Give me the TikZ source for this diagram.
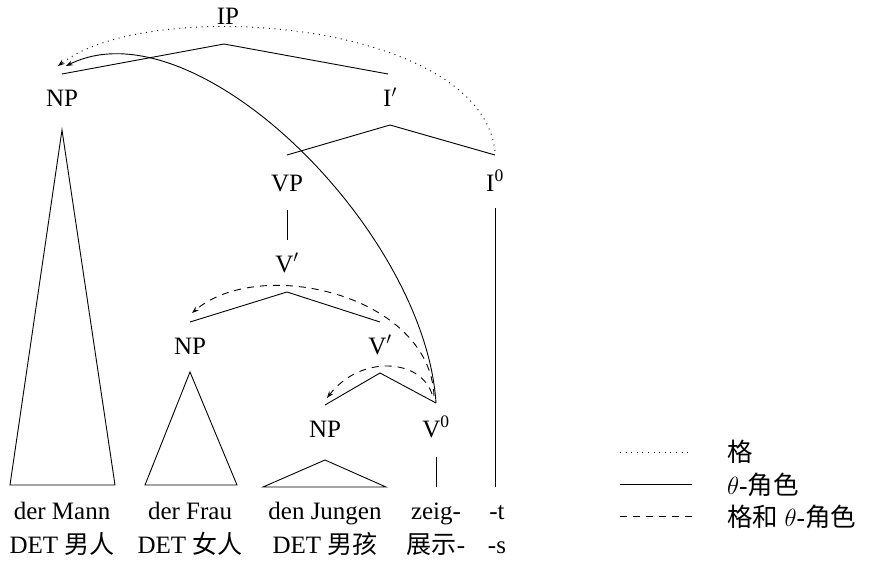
\documentclass[tikz,border=0pt]{standalone}
\usepackage{fontspec}
\setmainfont{Liberation Serif}
\newfontfamily\cjk{Noto Sans CJK SC}
\usetikzlibrary{arrows.meta}
\tikzset{
  lbl/.style={font=\fontsize{25}{29}\selectfont, inner sep=0pt, anchor=base},
  leg/.style={font=\fontsize{25.5}{29}\selectfont, inner sep=0pt, anchor=west},
  branch/.style={line width=0.9pt},
  dotrel/.style={line width=0.9pt, dash pattern=on 1pt off 4.6pt},
  dashrel/.style={line width=0.9pt, dash pattern=on 7pt off 6pt},
  solrel/.style={line width=0.9pt},
  tip/.style={-{Stealth[length=7pt,width=5pt,inset=2.5pt]}}
}
\begin{document}
\begin{tikzpicture}[x=1pt,y=-1pt]
\useasboundingbox (0,0) rectangle (873,567);
% labels
\node[lbl] (ip) at (228,25) {IP};
\node[lbl] (np1) at (62,107) {NP};
\node[lbl] (ibar) at (390,107) {I$'$};
\node[lbl] (vp) at (287,192) {VP};
\node[lbl] (i0) at (495,191) {I\textsuperscript{0}};
\node[lbl] (vbar1) at (287,272) {V$'$};
\node[lbl] (np2) at (190,354) {NP};
\node[lbl] (vbar2) at (380,354) {V$'$};
\node[lbl] (np3) at (325,437) {NP};
\node[lbl] (v0) at (436,437) {V\textsuperscript{0}};
% words
\node[lbl] (w1) at (62,519) {der Mann};
\node[lbl] (w2) at (190,519) {der Frau};
\node[lbl] (w3) at (325,519) {den Jungen};
\node[lbl] (w4) at (436,519) {zeig-};
\node[lbl] (w5) at (497,519) {-t};
\node[lbl] (g1) at (62,553) {DET {\cjk 男人}};
\node[lbl] (g2) at (190,553) {DET {\cjk 女人}};
\node[lbl] (g3) at (325,553) {DET {\cjk 男孩}};
\node[lbl] (g4) at (436,553) {{\cjk 展示}-};
\node[lbl] (g5) at (497,553) {-s};
% tree coordinates
\coordinate (ipA) at (224,44);
\coordinate (np1T) at (62,74);
\coordinate (ibarT) at (388,74);
\coordinate (ibarA) at (390,125);
\coordinate (vpT) at (287,155);
\coordinate (i0T) at (495,155);
\coordinate (vpB) at (287,210);
\coordinate (vbar1T) at (287,240);
\coordinate (vbar1A) at (287,292);
\coordinate (np2T) at (190,322);
\coordinate (vbar2T) at (380,322);
\coordinate (vbar2A) at (380,373);
\coordinate (np3T) at (325,405);
\coordinate (v0T) at (436,403);
\coordinate (i0B) at (495,208);
\coordinate (i0E) at (495,487);
\coordinate (v0B) at (436,457);
\coordinate (v0E) at (436,487);
% branches
\draw[branch] (np1T) -- (ipA) -- (ibarT);
\draw[branch] (vpT) -- (ibarA) -- (i0T);
\draw[branch] (vpB) -- (vbar1T);
\draw[branch] (np2T) -- (vbar1A) -- (vbar2T);
\draw[branch] (np3T) -- (vbar2A) -- (v0T);
\draw[branch] (i0B) -- (i0E);
\draw[branch] (v0B) -- (v0E);
% triangles
\draw[branch] (62,130) -- (10,485) -- (115,485) -- cycle;
\draw[branch] (190,372) -- (145,485) -- (237,485) -- cycle;
\draw[branch] (325,460) -- (263,487) -- (386,487) -- cycle;
% relations
\coordinate (npArrA) at (58,66);
\coordinate (npArrB) at (66,66);
\coordinate (np2Arr) at (192,313);
\coordinate (np3Arr) at (327,398);
\draw[dotrel,tip] (495,151) .. controls (480,20) and (150,-5) .. (npArrA);
\draw[solrel,tip] (v0T) .. controls (425,230) and (195,2) .. (npArrB);
\draw[dashrel,tip] (434,396) .. controls (430,295) and (260,255) .. (np2Arr);
\draw[dashrel,tip] (432,394) .. controls (420,358) and (360,355) .. (np3Arr);
% legend
\coordinate (l1a) at (620,452); \coordinate (l1b) at (692,452);
\coordinate (l2a) at (620,484); \coordinate (l2b) at (692,484);
\coordinate (l3a) at (620,516); \coordinate (l3b) at (692,516);
\draw[dotrel] (l1a) -- (l1b);
\draw[solrel] (l2a) -- (l2b);
\draw[dashrel] (l3a) -- (l3b);
\node[leg] (t1) at (727,452) {\cjk 格};
\node[leg] (t2) at (727,485) {$\theta$-{\cjk 角色}};
\node[leg] (t3) at (727,517) {{\cjk 格和} $\theta$-{\cjk 角色}};
\end{tikzpicture}
\end{document}
